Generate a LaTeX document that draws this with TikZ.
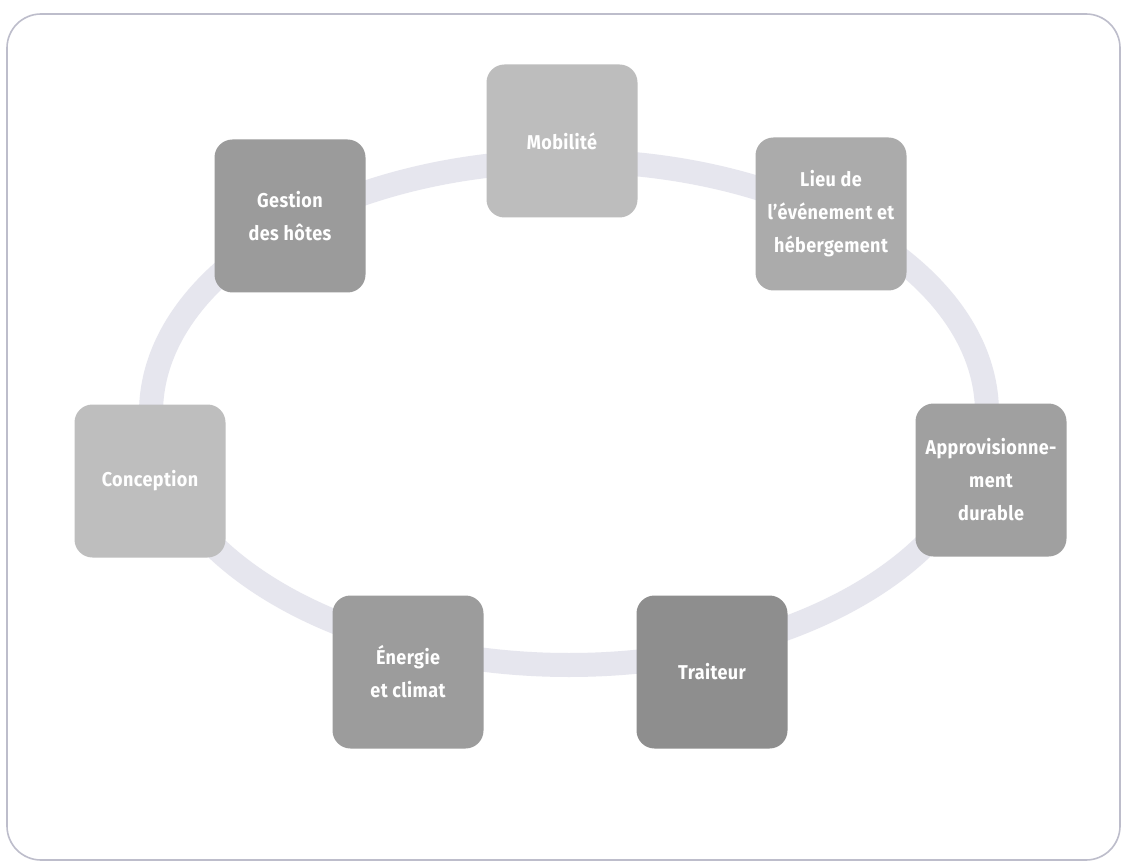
\documentclass[tikz,border=0pt]{standalone}
\usepackage{fontspec}
\setsansfont{Fira Sans}[FakeStretch=0.9,LetterSpace=2]
\begin{document}
\begin{tikzpicture}[x=1pt,y=-1pt,
  frame/.style={draw=framecol,line width=1.6pt,rounded corners=34pt},
  ring/.style={draw=ringcol,line width=24pt},
  topic/.style={rounded corners=18pt,minimum width=151pt,minimum height=153pt,
    inner sep=0pt,text=white,align=center,font=\sffamily\bfseries\fontsize{20}{33}\selectfont}]
\definecolor{framecol}{HTML}{BDBDCB}
\definecolor{ringcol}{HTML}{E6E6EE}
\definecolor{cA}{HTML}{BDBDBD}
\definecolor{cB}{HTML}{9B9B9B}
\definecolor{cC}{HTML}{ABABAB}
\definecolor{cD}{HTML}{BEBEBE}
\definecolor{cE}{HTML}{A0A0A0}
\definecolor{cF}{HTML}{9C9C9C}
\definecolor{cG}{HTML}{8E8E8E}
\useasboundingbox (0,0) rectangle (1124,866);
\fill[white] (0,0) rectangle (1124,866);
\draw[frame] (7,14) rectangle (1120,860);
\draw[ring] (569,413) ellipse [x radius=418, y radius=252];
\node[topic,fill=cA] (mob) at (562,141) {Mobilité};
\node[topic,fill=cB] (ges) at (290,216) {Gestion\\des hôtes};
\node[topic,fill=cC] (lieu) at (831,214) {Lieu de\\l’événement et\\hébergement};
\node[topic,fill=cD] (con) at (150,481) {Conception};
\node[topic,fill=cE] (app) at (991,480) {Approvisionne-\\ment\\durable};
\node[topic,fill=cF] (ene) at (408,672) {Énergie\\et climat};
\node[topic,fill=cG] (tra) at (712,672) {Traiteur};
\end{tikzpicture}
\end{document}
